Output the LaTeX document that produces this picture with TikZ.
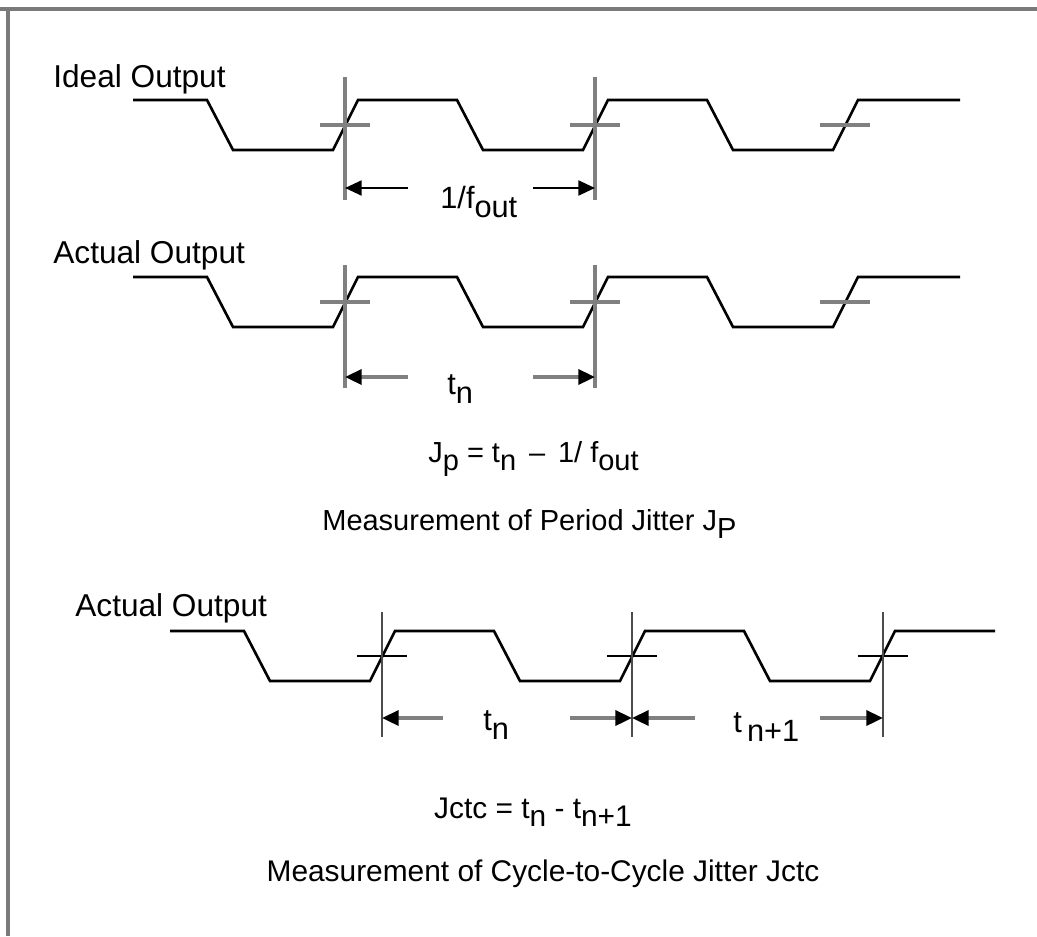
\documentclass[tikz,border=0pt]{standalone}
\usepackage{fontspec}
\setmainfont{Liberation Sans}
\usepackage{xcolor}
\definecolor{markGray}  {HTML}{808080}
\definecolor{frameGray} {HTML}{7A7A7A}
\usetikzlibrary{arrows.meta, positioning, calc}
\newcommand\lowsub[1]{\raisebox{-0.3em}{#1}}
\tikzset{
    wave/.style={line width=1.5pt, black, line join=miter},
    marker/.style={line width=2.1pt, markGray},
    markdark/.style={line width=1.5pt, black!70},
    dimarrow/.style={-{Triangle[length=9.5pt, width=8.5pt, color=black]},
                     line width=2.1pt, markGray},
    dimdark/.style={dimarrow, line width=1.4pt, black},
    frameline/.style={line width=2.3pt, frameGray},
    rowlabel/.style={anchor=base west, inner sep=0pt,
                     font=\fontsize{18}{21}\selectfont},
    dimlabel/.style={anchor=base west, inner sep=0pt,
                     font=\fontsize{17.5}{21}\selectfont},
    eqn/.style={anchor=base west, inner sep=0pt,
                font=\fontsize{16.5}{20}\selectfont},
    centereqn/.style={anchor=base, inner sep=0pt,
                      font=\fontsize{17}{20}\selectfont},
}
\begin{document}
\begin{tikzpicture}[x=0.02cm, y=-0.02cm]
    \useasboundingbox (0,0) rectangle (1037,936);
    % frame (top and left edge only)
    \coordinate (fl) at (0,9);
    \coordinate (fr) at (1037,9);
    \coordinate (fb) at (8,936);
    \draw[frameline] (fl) -- (fr);
    \draw[frameline, line width=1.8pt] (fl -| fb) -- (fb);

    % Ideal output and first actual output
    \node[rowlabel] (ideal) at (53,88) {Ideal Output};
    \node[rowlabel] (actualA) at (53,263) {Actual Output};
    \foreach \y in {100,277}
        \draw[wave] (133,\y) -- ++(74,0) -- ++(26,50) -- ++(100,0) -- ++(25,-50)
            -- ++(99,0) -- ++(26,50) -- ++(100,0) -- ++(25,-50)
            -- ++(99,0) -- ++(26,50) -- ++(100,0) -- ++(25,-50) -- ++(102,0);
    \foreach \y in {125,302}
        \foreach \x in {345,595,845}
            \draw[marker] (\x-25,\y) -- (\x+25,\y);

    % row 1: 1/f_out
    \coordinate (i1) at (345,77);
    \coordinate (i2) at (595,77);
    \coordinate (ib) at (0,200);
    \draw[marker] (i1) -- (i1 |- ib);
    \draw[marker] (i2) -- (i2 |- ib);
    \node[dimlabel] (period) at (440,208) {1/f\lowsub{out}};
    \coordinate (pl) at (408,188);
    \coordinate (pr) at (533,188);
    \draw[dimdark] (pl) -- (i1 |- pl);
    \draw[dimdark] (pr) -- (i2 |- pr);

    % row 2: t_n
    \coordinate (a1) at (345,265);
    \coordinate (a2) at (595,265);
    \coordinate (ab) at (0,388);
    \draw[marker] (a1) -- (a1 |- ab);
    \draw[marker] (a2) -- (a2 |- ab);
    \node[dimlabel] (tnA) at (447,394) {t\lowsub{n}};
    \coordinate (ql) at (408,377);
    \coordinate (qr) at (533,377);
    \draw[dimarrow] (ql) -- (a1 |- ql);
    \draw[dimarrow] (qr) -- (a2 |- qr);

    % period jitter
    \node[eqn] (jpEq) at (428,462) {J\lowsub{p} = t\lowsub{n} \,–\, 1/ f\lowsub{out}};
    \node[eqn] (jpCap) at (322,530) {Measurement of Period Jitter J\lowsub{P}};

    % second actual output
    \node[rowlabel] (actualB) at (75,616) {Actual Output};
    \draw[wave] (170,631) -- ++(74,0) -- ++(26,50) -- ++(100,0) -- ++(25,-50)
        -- ++(99,0) -- ++(26,50) -- ++(100,0) -- ++(25,-50)
        -- ++(99,0) -- ++(26,50) -- ++(100,0) -- ++(25,-50) -- ++(100,0);
    \foreach \x in {382,632,883}
        \draw[markdark, black] (\x-25,656) -- (\x+25,656);
    \coordinate (b1) at (382,612);
    \coordinate (b2) at (632,612);
    \coordinate (b3) at (883,612);
    \coordinate (bb) at (0,737);
    \foreach \b in {b1,b2,b3}
        \draw[markdark] (\b) -- (\b |- bb);
    \node[dimlabel] (tnB) at (483,730) {t\lowsub{n}};
    \node[dimlabel] (tnC) at (733,732) {t\,\lowsub{n+1}};
    \coordinate (r1) at (443,718);
    \coordinate (r2) at (570,718);
    \coordinate (r3) at (695,718);
    \coordinate (r4) at (820,718);
    \draw[dimarrow] (r1) -- (b1 |- r1);
    \draw[dimarrow] (r2) -- (b2 |- r2);
    \draw[dimarrow] (r3) -- (b2 |- r3);
    \draw[dimarrow] (r4) -- (b3 |- r4);

    % cycle-to-cycle jitter
    \node[centereqn] (jctcEq) at (533,818) {Jctc = t\lowsub{n} - t\lowsub{n+1}};
    \node[centereqn] (jctcCap) at (543,881)
        {Measurement of Cycle-to-Cycle Jitter Jctc};
\end{tikzpicture}
\end{document}
